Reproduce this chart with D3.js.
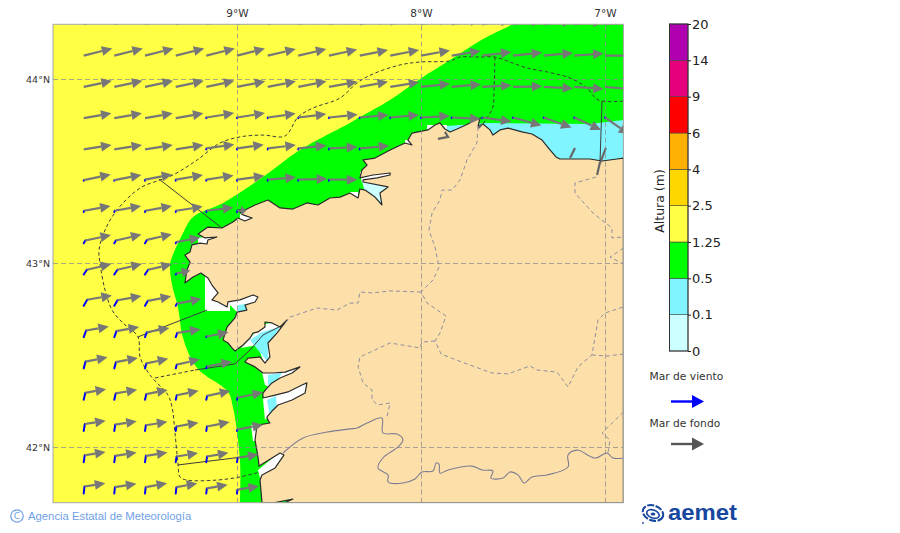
<![CDATA[<html>
<head>
  <meta charset="utf-8">
  <title>Altura de ola</title>
  <script src="https://cdnjs.cloudflare.com/ajax/libs/d3/7.8.5/d3.min.js"></script>
  <style>
    html, body { margin: 0; padding: 0; background: #fff; }
    svg { display: block; }
    text { font-family: "DejaVu Sans", sans-serif; }
  </style>
</head>
<body>
<div id="viz"></div>
<script>
// map extent in degrees
var lonExtent = [-10, -6.9],
    latExtent = [41.7, 44.3];
var lonTicks = [-9, -8, -7],
    latTicks = [42, 43, 44];

// colour bar
var levels = ["0", "0.1", "0.5", "1.25", "2.5", "4", "6", "9", "14", "20"];
var levelColors = ["#ccffff", "#80f4ff", "#00ff00", "#ffff44", "#ffd700", "#ffb000", "#ff0000", "#e6007e", "#b000b0"];

// sea height areas, [lon, lat]
var greenEdge = [[-7.5,44.3],[-7.663,44.22],[-7.842,44.106],[-8.005,44.003],[-8.168,43.889],[-8.332,43.796],[-8.386,43.764],[-8.658,43.617],[-8.859,43.47],[-9.076,43.329],[-9.239,43.253],[-9.293,43.166],[-9.353,43.035],[-9.364,42.992],[-9.353,42.883],[-9.321,42.764],[-9.293,42.595],[-9.217,42.432],[-9.049,42.302],[-9.022,42.22],[-8.984,41.932],[-8.984,41.7]];
var greenCorners = [[-6.9,41.7],[-6.9,44.3]];
var cyanAreas = [
  [[-7.859,43.747],[-7.636,43.764],[-7.082,43.758],[-6.9,43.78],[-6.9,43.535],[-7.859,43.535]],
  [[-8.995,42.774],[-8.946,42.78],[-8.946,42.742],[-8.995,42.742]],
  [[-8.929,42.584],[-8.864,42.628],[-8.766,42.655],[-8.832,42.557],[-8.832,42.465],[-8.886,42.53]],
  [[-8.832,42.394],[-8.755,42.405],[-8.788,42.356],[-8.832,42.34]],
  [[-8.837,42.258],[-8.788,42.28],[-8.783,42.204],[-8.821,42.171]]
];
var paleAreas = [
  [[-8.321,43.448],[-8.168,43.427],[-8.207,43.307],[-8.304,43.383]]
];
var whiteAreas = [
  [[-7.967,43.753],[-7.859,43.753],[-7.859,43.715],[-7.967,43.715]],
  [[-7.804,43.753],[-7.745,43.753],[-7.745,43.72],[-7.804,43.72]],
  [[-7.174,43.595],[-7.082,43.595],[-7.082,43.557],[-7.174,43.557]],
  [[-7.315,43.633],[-7.266,43.633],[-7.266,43.59],[-7.315,43.59]],
  [[-9.174,42.938],[-9.038,42.938],[-9.038,42.742],[-9.174,42.742]],
  [[-9.049,42.802],[-8.864,42.84],[-8.864,42.774],[-8.957,42.736],[-9,42.736],[-9.049,42.785]],
  [[-8.978,42.541],[-8.864,42.666],[-8.712,42.704],[-8.81,42.476],[-8.854,42.454],[-8.886,42.557]],
  [[-8.864,42.41],[-8.647,42.448],[-8.712,42.394],[-8.81,42.323],[-8.848,42.34]],
  [[-8.859,42.269],[-8.658,42.351],[-8.603,42.356],[-8.63,42.285],[-8.821,42.177],[-8.848,42.149]],
  [[-8.924,42.122],[-8.875,42.122],[-8.875,42.035],[-8.913,42.035]],
  [[-8.886,41.878],[-8.766,41.976],[-8.734,41.959],[-8.788,41.878],[-8.875,41.834]],
  [[-8.332,43.497],[-8.158,43.508],[-8.158,43.465],[-8.321,43.437]],
  [[-8.386,43.389],[-8.342,43.389],[-8.342,43.351],[-8.386,43.351]],
  [[-9.212,43.139],[-9.103,43.155],[-9.147,43.095],[-9.212,43.095]],
  [[-8.984,43.269],[-8.913,43.253],[-8.957,43.226],[-8.984,43.242]],
  [[-8.087,43.671],[-8.043,43.671],[-8.043,43.639],[-8.087,43.639]]
];

// land
var coast = [[-6.9,43.573],[-6.935,43.568],[-7.016,43.557],[-7.082,43.568],[-7.179,43.568],[-7.245,43.568],[-7.266,43.579],[-7.299,43.617],[-7.342,43.671],[-7.397,43.704],[-7.451,43.715],[-7.527,43.736],[-7.571,43.726],[-7.609,43.698],[-7.625,43.726],[-7.663,43.758],[-7.69,43.747],[-7.679,43.791],[-7.707,43.78],[-7.745,43.758],[-7.804,43.731],[-7.842,43.715],[-7.87,43.731],[-7.897,43.764],[-7.924,43.753],[-7.962,43.726],[-8.049,43.709],[-8.071,43.671],[-8.049,43.644],[-8.087,43.655],[-8.168,43.617],[-8.25,43.573],[-8.315,43.563],[-8.293,43.535],[-8.321,43.508],[-8.332,43.465],[-8.261,43.481],[-8.168,43.492],[-8.168,43.481],[-8.239,43.465],[-8.315,43.454],[-8.315,43.443],[-8.179,43.416],[-8.223,43.383],[-8.212,43.318],[-8.25,43.361],[-8.304,43.399],[-8.332,43.405],[-8.342,43.356],[-8.386,43.383],[-8.44,43.361],[-8.495,43.356],[-8.56,43.318],[-8.62,43.329],[-8.696,43.296],[-8.766,43.302],[-8.832,43.345],[-8.902,43.318],[-8.957,43.291],[-8.995,43.291],[-8.967,43.264],[-8.918,43.247],[-8.957,43.231],[-8.995,43.247],[-9.022,43.226],[-9.082,43.193],[-9.158,43.198],[-9.212,43.16],[-9.174,43.139],[-9.109,43.144],[-9.158,43.128],[-9.163,43.106],[-9.201,43.111],[-9.245,43.101],[-9.255,43.063],[-9.283,43.046],[-9.255,43.008],[-9.272,42.965],[-9.283,42.894],[-9.239,42.927],[-9.196,42.948],[-9.158,42.921],[-9.136,42.883],[-9.103,42.84],[-9.136,42.802],[-9.103,42.791],[-9.054,42.764],[-9.049,42.791],[-8.984,42.802],[-8.913,42.829],[-8.886,42.818],[-8.902,42.791],[-8.957,42.774],[-8.946,42.747],[-9,42.736],[-9.011,42.704],[-9.054,42.655],[-9.076,42.584],[-9.049,42.568],[-9.027,42.541],[-9.011,42.524],[-8.967,42.557],[-8.929,42.595],[-8.913,42.622],[-8.886,42.628],[-8.848,42.655],[-8.848,42.682],[-8.81,42.677],[-8.766,42.655],[-8.728,42.693],[-8.783,42.622],[-8.832,42.568],[-8.821,42.492],[-8.848,42.459],[-8.875,42.492],[-8.94,42.486],[-8.957,42.465],[-8.902,42.438],[-8.859,42.405],[-8.804,42.405],[-8.739,42.41],[-8.658,42.438],[-8.701,42.405],[-8.766,42.378],[-8.81,42.351],[-8.837,42.323],[-8.859,42.296],[-8.859,42.269],[-8.793,42.285],[-8.723,42.302],[-8.647,42.34],[-8.62,42.351],[-8.63,42.296],[-8.701,42.258],[-8.777,42.231],[-8.804,42.204],[-8.837,42.166],[-8.832,42.149],[-8.821,42.133],[-8.891,42.122],[-8.902,42.041],[-8.886,41.948],[-8.88,41.899],[-8.766,41.97],[-8.745,41.959],[-8.793,41.889],[-8.864,41.851],[-8.875,41.823],[-8.864,41.7],[-8.793,41.7],[-8.696,41.72],[-8.739,41.7],[-6.9,41.7]];
var estuaries = [
  [[-7.908,43.677],[-7.853,43.688],[-7.87,43.715]],
  [[-7.69,43.736],[-7.67,43.753]],
  [[-7.027,43.552],[-7.043,43.481]],
  [[-7.19,43.573],[-7.163,43.628]],
  [[-7.027,43.546],[-6.995,43.628]]
];

// administrative borders
var provinceBorders = [
  [[-7.69,43.742],[-7.696,43.655],[-7.75,43.5625],[-7.788,43.454],[-7.832,43.399],[-7.886,43.399],[-7.897,43.345],[-7.94,43.274],[-7.957,43.182],[-7.924,43.09],[-7.902,42.981],[-7.935,42.91],[-8,42.845],[-7.967,42.785],[-7.864,42.715],[-7.897,42.622],[-7.924,42.579],[-7.891,42.508],[-7.75,42.454],[-7.614,42.405],[-7.527,42.4],[-7.408,42.443],[-7.37,42.421],[-7.261,42.41],[-7.201,42.329],[-7.147,42.438],[-7.071,42.503],[-7.038,42.693],[-7,42.731],[-6.9,42.764]],
  [[-8,42.845],[-8.168,42.851],[-8.261,42.84],[-8.332,42.845],[-8.342,42.785],[-8.386,42.785],[-8.457,42.747],[-8.565,42.758],[-8.712,42.709],[-8.745,42.666]],
  [[-7.924,42.579],[-7.995,42.573],[-8.005,42.541],[-8.168,42.568],[-8.332,42.492],[-8.342,42.438],[-8.315,42.351],[-8.266,42.3125],[-8.266,42.258],[-8.234,42.231],[-8.168,42.242],[-8.185,42.166]],
  [[-7.071,42.503],[-6.989,42.497],[-6.9,42.508]],
  [[-7.049,43.47],[-7.163,43.4375],[-7.163,43.383],[-7.065,43.274],[-6.962,43.193],[-6.962,43.139],[-6.9,43.144]],
  [[-6.9,43.084],[-6.973,43.035],[-6.9,42.997]],
  [[-6.9,42.193],[-7.016,42.079],[-6.973,42.041],[-6.984,41.97]]
];
var portugalBorder = [[-8.75,41.97],[-8.641,42.052],[-8.511,42.084],[-8.386,42.101],[-8.348,42.106],[-8.293,42.133],[-8.212,42.16],[-8.207,42.079],[-8.13,42.073],[-8.098,42.041],[-8.125,42.003],[-8.207,41.943],[-8.234,41.889],[-8.179,41.851],[-8.179,41.813],[-8.098,41.807],[-8.033,41.829],[-7.995,41.867],[-7.935,41.872],[-7.918,41.916],[-7.902,41.91],[-7.897,41.861],[-7.853,41.878],[-7.723,41.899],[-7.668,41.878],[-7.609,41.872],[-7.62,41.834],[-7.554,41.834],[-7.516,41.867],[-7.473,41.851],[-7.44,41.807],[-7.397,41.84],[-7.315,41.851],[-7.201,41.894],[-7.201,41.959],[-7.152,41.986],[-7.054,41.943],[-6.989,41.97],[-6.957,41.943],[-6.9,41.943]];

// forecast zones at sea
var zoneDashed = [
  [[-6.9,43.883],[-7.038,43.889],[-7.098,43.954],[-7.19,44.008],[-7.315,44.041],[-7.424,44.0625],[-7.516,44.095],[-7.598,44.122],[-7.679,44.122],[-7.788,44.122],[-7.842,44.101],[-8.005,44.095],[-8.114,44.079],[-8.261,44.03],[-8.348,43.981],[-8.44,43.899],[-8.587,43.845],[-8.668,43.796],[-8.739,43.693],[-8.859,43.698],[-8.984,43.688],[-9.092,43.655],[-9.217,43.5625],[-9.348,43.481],[-9.418,43.454],[-9.527,43.41],[-9.652,43.291],[-9.717,43.182],[-9.75,43.073],[-9.745,43.003],[-9.717,42.856],[-9.679,42.747],[-9.62,42.677],[-9.538,42.601],[-9.527,42.492],[-9.473,42.394],[-9.375,42.285],[-9.353,42.22],[-9.337,42.079],[-9.321,41.916],[-9.31,41.84],[-9.272,41.823],[-9.109,41.823],[-8.984,41.84],[-8.875,41.867]],
  [[-9.446,42.378],[-9.228,42.421]],
  [[-7.598,44.122],[-7.603,43.943],[-7.609,43.851],[-7.641,43.791],[-7.668,43.753]]
];
var zoneSolid = [
  [[-9.424,43.459],[-9.082,43.193]],
  [[-9.538,42.601],[-9.163,42.747]],
  [[-9.228,42.421],[-9.011,42.454],[-8.929,42.53],[-8.859,42.611],[-8.75,42.666]],
  [[-9.321,41.905],[-8.886,41.959]],
  [[-7.016,43.883],[-7.027,43.557]]
];

// arrow grid
var gridLons = [-9.833, -9.667, -9.5, -9.333, -9.167, -9, -8.833, -8.667, -8.5, -8.333, -8.167, -8, -7.833, -7.667, -7.5, -7.333, -7.167, -7];
var gridLats = [44.3, 44.13, 43.96, 43.79, 43.62, 43.45, 43.28, 43.11, 42.94, 42.77, 42.6, 42.43, 42.26, 42.09, 41.92, 41.75];

// swell direction, degrees from east, one row per latitude (missing = land)
var swellAngle = [
  [14,14,14,14,14,14,14,13,13,12,12,11,10,9,8,7,6,5],
  [14,14,14,14,14,14,13,13,12,11,11,10,9,7,6,5,4,0],
  [12,12,12,12,12,11,11,11,10,10,9,6,5,3,1,-3,-4,-5],
  [10,10,10,10,9,9,8,7,6,5,5,3,-3,-8,-16,-20,-25,-35],
  [9,9,9,9,8,8,7,6,3,5],
  [12,11,11,10,9,8,5,2,0],
  [10,10,10,9,7,1],
  [12,13,13,11],
  [13,13,13,12],
  [10,10,11,11],
  [10,10,11,9,11],
  [11,11,12,13,11],
  [10,10,11,12,12,12],
  [9,9,9,10,11,11],
  [9,9,9,9,10,9],
  [9,9,10,10,10,9]
];
// swell height, m
var swellHeight = [
  [2.3,2.3,2.3,2.3,2.3,2.3,2.3,2.3,2.3,2.3,2.3,2.3,2.3,2.3,2.3,2.3,2.3,2.3],
  [2.3,2.3,2.3,2.3,2.3,2.25,2.25,2.25,2.25,2.25,2.3,2.3,2.3,2.3,2.3,2.3,2.3,2.3],
  [2.25,2.25,2.25,2.25,2.25,2.25,2.25,2.25,2.25,2.25,2.3,2.3,2.3,2.3,2.3,2.3,2.3,2.3],
  [2.2,2.2,2.2,2.2,2.2,2.2,2.2,2.2,2.25,2.25,2.25,2.25,2.25,2.3,2.3,2.3,2.3,2.3],
  [2.2,2.2,2.2,2.2,2.2,2.1,2.2,2.2,2.2,2.3],
  [2.15,2.15,2.15,2.15,2.15,2.15,2.2,2.25,2.2],
  [2.1,2.1,2.1,2.1,2.1,0.7],
  [2.05,2.05,2.0,1.9],
  [1.95,1.95,1.9,1.1],
  [1.95,1.9,1.85,1.95],
  [1.8,1.8,1.8,1.85,1.75],
  [1.75,1.75,1.75,1.85,2.0],
  [1.65,1.7,1.7,1.75,1.85,2.05],
  [1.65,1.7,1.7,1.75,1.8,2.05],
  [1.65,1.7,1.7,1.7,1.7,1.65],
  [1.65,1.7,1.7,1.65,1.65,1.7]
];
// wind sea direction per row and height per cell
var windAngle = [80, 80, 80, 80, 80, 80, 70, 60, 57, 60, 70, 75, 77, 81, 82, 84];
var windHeight = [
  [],
  [],
  [],
  [0,0,0,0,.05,.05,.05,.05,.05,.05,.05,.05,.05,.05,.05,.05,.05,.05],
  [0,0,0,0,.08,.08,.08,.08,.08,.08],
  [.04,.04,.08,.08,.08,.08,.08,.08,.08],
  [.1,.1,.1,.1,.1,.1],
  [.25,.25,.3,.1],
  [.45,.45,.45,.1],
  [.55,.5,.45,.2],
  [.55,.5,.4,.35,.05],
  [.55,.5,.4,.3,.15],
  [.55,.5,.45,.35,.3,.15],
  [.55,.5,.45,.35,.35,.1],
  [.55,.5,.5,.45,.45,.35],
  [.55,.5,.5,.5,.4,.3]
];

var width = 900, height = 533;
var svg = d3.select("#viz").append("svg").attr("width", width).attr("height", height);

var x = d3.scaleLinear().domain(lonExtent).range([53, 623.4]);
var y = d3.scaleLinear().domain(latExtent).range([502.7, 24.3]);
var arrowLen = d3.scaleLinear().domain([0, 2.5]).range([0, 32]);

var toPath = d3.line().x(function (d) { return x(d[0]); }).y(function (d) { return y(d[1]); });
var toSmooth = d3.line().x(function (d) { return x(d[0]); }).y(function (d) { return y(d[1]); }).curve(d3.curveCatmullRom);
function closed(d) { return toPath(d) + "Z"; }

svg.append("clipPath").attr("id", "mapClip").append("rect")
  .attr("x", x(lonExtent[0])).attr("y", y(latExtent[1]))
  .attr("width", x(lonExtent[1]) - x(lonExtent[0]))
  .attr("height", y(latExtent[0]) - y(latExtent[1]));

var map = svg.append("g").attr("clip-path", "url(#mapClip)");

map.append("rect")
  .attr("x", x(lonExtent[0])).attr("y", y(latExtent[1]))
  .attr("width", x(lonExtent[1]) - x(lonExtent[0]))
  .attr("height", y(latExtent[0]) - y(latExtent[1]))
  .attr("fill", levelColors[3]);

map.append("path")
  .attr("d", toSmooth(greenEdge) + "L" + greenCorners.map(function (d) { return x(d[0]) + "," + y(d[1]); }).join("L") + "Z")
  .attr("fill", levelColors[2]);
map.selectAll(".white").data(whiteAreas).enter().append("path").attr("d", closed).attr("fill", "#fff");
map.selectAll(".cyan").data(cyanAreas).enter().append("path").attr("d", closed).attr("fill", levelColors[1]);
map.selectAll(".pale").data(paleAreas).enter().append("path").attr("d", closed).attr("fill", levelColors[0]);

map.append("path").datum(coast).attr("d", closed)
  .attr("fill", "#fddfa9").attr("stroke", "#2a2a2a").attr("stroke-width", 1.2).attr("stroke-linejoin", "round");

map.selectAll(".estuary").data(estuaries).enter().append("path")
  .attr("d", toPath).attr("fill", "none").attr("stroke", "#666").attr("stroke-width", 2.2);

// graticule
var lonAxis = d3.axisTop(x).tickValues(lonTicks)
  .tickSize(y(latExtent[0]) - y(latExtent[1])).tickPadding(5)
  .tickFormat(function (d) { return Math.abs(d) + "°W"; });
var latAxis = d3.axisLeft(y).tickValues(latTicks).offset(0)
  .tickSize(x(lonExtent[0]) - x(lonExtent[1])).tickPadding(3)
  .tickFormat(function (d) { return d + "°N"; });

var gLon = svg.append("g").attr("transform", "translate(0," + y(latExtent[0]) + ")").call(lonAxis);
var gLat = svg.append("g").attr("transform", "translate(" + x(lonExtent[0]) + ",0)").call(latAxis);
[gLon, gLat].forEach(function (g) {
  g.select(".domain").remove();
  g.selectAll("line").attr("stroke", "#8c8c8c").attr("stroke-opacity", 0.75).attr("stroke-dasharray", "5,3");
  g.selectAll("text").attr("fill", "#333").style("font-family", "'DejaVu Sans'");
});
gLon.selectAll("text").style("font-size", "10.5px").attr("y", -(y(latExtent[0]) - 17));
gLat.selectAll("text").style("font-size", "9.5px").attr("x", -3);

// borders and zones
var lines = svg.append("g").attr("clip-path", "url(#mapClip)").attr("fill", "none");
lines.selectAll(".prov").data(provinceBorders).enter().append("path").attr("d", toPath)
  .attr("stroke", "#8f8f9f").attr("stroke-width", 1).attr("stroke-dasharray", "4,3");
lines.append("path").datum(portugalBorder).attr("d", toSmooth)
  .attr("stroke", "#7d7d92").attr("stroke-width", 1.1);
lines.selectAll(".zd").data(zoneDashed).enter().append("path").attr("d", toSmooth)
  .attr("stroke", "#3c3c3c").attr("stroke-width", 1).attr("stroke-dasharray", "3.5,2.5");
lines.selectAll(".zs").data(zoneSolid).enter().append("path").attr("d", toPath)
  .attr("stroke", "#3c3c3c").attr("stroke-width", 1);

// arrows
function drawArrow(g, x0, y0, angle, len, color, lw, headLen, headHalf) {
  var a = angle * Math.PI / 180,
      ux = Math.cos(a), uy = -Math.sin(a),
      x1 = x0 + ux * len, y1 = y0 + uy * len,
      bx = x1 - ux * headLen, by = y1 - uy * headLen;
  g.append("line").attr("x1", x0).attr("y1", y0).attr("x2", bx).attr("y2", by)
    .attr("stroke", color).attr("stroke-width", lw);
  g.append("path")
    .attr("d", "M" + x1 + "," + y1 + "L" + (bx - uy * headHalf) + "," + (by + ux * headHalf) + "L" + (bx + uy * headHalf) + "," + (by - ux * headHalf) + "Z")
    .attr("fill", color);
}

var arrows = svg.append("g").attr("clip-path", "url(#mapClip)");
gridLats.forEach(function (lat, r) {
  swellAngle[r].forEach(function (ang, c) {
    var x0 = x(gridLons[c]), y0 = y(lat);
    var wh = windHeight[r][c] || 0;
    var wa = windAngle[r] * Math.PI / 180;
    var x1 = x0 + Math.cos(wa) * arrowLen(wh), y1 = y0 - Math.sin(wa) * arrowLen(wh);
    if (wh > 0) {
      arrows.append("line").attr("x1", x0).attr("y1", y0).attr("x2", x1).attr("y2", y1)
        .attr("stroke", "#0000ff").attr("stroke-width", 2).attr("stroke-linecap", "round");
    }
    var len = arrowLen(swellHeight[r][c]);
    drawArrow(arrows, x1, y1, ang, len, "#777", 2.2, Math.min(10.5, len * 0.6), 5);
  });
});

// frame
svg.append("rect")
  .attr("x", x(lonExtent[0])).attr("y", y(latExtent[1]))
  .attr("width", x(lonExtent[1]) - x(lonExtent[0]))
  .attr("height", y(latExtent[0]) - y(latExtent[1]))
  .attr("fill", "none").attr("stroke", "#a5a5a5").attr("stroke-width", 1);

// colour bar
var barX = 669.5, barW = 18.5;
var barY = d3.scalePoint().domain(levels).range([351, 24]);
var bar = svg.append("g");
levelColors.forEach(function (c, i) {
  bar.append("rect")
    .attr("x", barX).attr("y", barY(levels[i + 1]))
    .attr("width", barW).attr("height", barY(levels[i]) - barY(levels[i + 1]))
    .attr("fill", c).attr("stroke", "#444").attr("stroke-width", 0.6);
});
bar.append("rect").attr("x", barX).attr("y", 24).attr("width", barW).attr("height", 327)
  .attr("fill", "none").attr("stroke", "#333").attr("stroke-width", 1);
var barAxis = d3.axisRight(barY).tickSize(3).tickPadding(1);
var gBar = svg.append("g").attr("transform", "translate(" + (barX + barW) + ",0)").call(barAxis);
gBar.select(".domain").remove();
gBar.selectAll("line").attr("stroke", "#222");
gBar.selectAll("text").attr("fill", "#222").style("font-size", "13px").style("font-family", "'DejaVu Sans'");

svg.append("text").attr("transform", "translate(664,201) rotate(-90)")
  .attr("text-anchor", "middle").attr("font-size", 12.5).attr("fill", "#222").text("Altura (m)");

// legend
svg.append("text").attr("x", 649.5).attr("y", 380).attr("font-size", 10.7).attr("fill", "#333").text("Mar de viento");
svg.append("text").attr("x", 649.5).attr("y", 427).attr("font-size", 10.7).attr("fill", "#333").text("Mar de fondo");
var legend = svg.append("g");
drawArrow(legend, 671, 401.5, 0, 33, "#0000ff", 2.4, 12, 6.5);
drawArrow(legend, 671, 444, 0, 33, "#555", 2.4, 12, 6.5);

// footer
svg.append("circle").attr("cx", 17).attr("cy", 516).attr("r", 6.2)
  .attr("fill", "none").attr("stroke", "#6f9fe6").attr("stroke-width", 1.2);
svg.append("text").attr("x", 17).attr("y", 519).attr("text-anchor", "middle")
  .attr("font-size", 9).attr("fill", "#6f9fe6").text("C");
svg.append("text").attr("x", 28).attr("y", 520)
  .style("font-family", "'Liberation Sans'").attr("font-size", 11.3).attr("fill", "#6f9fe6")
  .text("Agencia Estatal de Meteorología");

// logo
var logo = svg.append("g").attr("fill", "none").attr("stroke", "#17479e");
logo.append("ellipse").attr("cx", 653).attr("cy", 513).attr("rx", 10.5).attr("ry", 7.5)
  .attr("transform", "rotate(20 653 513)").attr("stroke-width", 2).attr("stroke-dasharray", "7,1.5");
logo.append("ellipse").attr("cx", 653).attr("cy", 514).attr("rx", 6.5).attr("ry", 4)
  .attr("transform", "rotate(20 653 514)").attr("stroke-width", 1.6);
logo.append("ellipse").attr("cx", 653).attr("cy", 514).attr("rx", 2.4).attr("ry", 1.5)
  .attr("fill", "#17479e").attr("stroke", "none");
logo.append("circle").attr("cx", 643).attr("cy", 523).attr("r", 0.9).attr("fill", "#17479e").attr("stroke", "none");
svg.append("text").attr("x", 668).attr("y", 520)
  .style("font-family", "'Liberation Sans'").style("font-weight", "bold").attr("font-size", 22)
  .attr("textLength", 69).attr("lengthAdjust", "spacingAndGlyphs")
  .attr("fill", "#17479e").text("aemet");
</script>
</body>
</html>
]]>
